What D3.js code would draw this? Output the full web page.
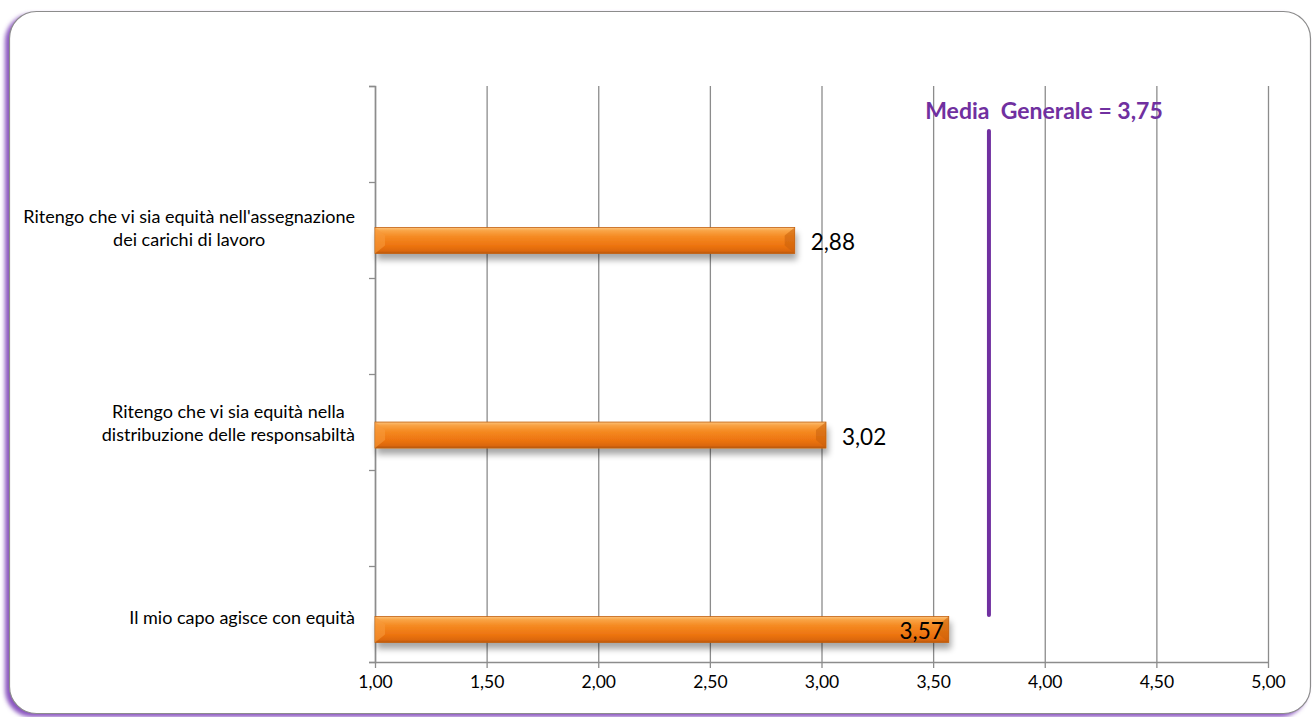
<!DOCTYPE html>
<html>
<head>
<meta charset="utf-8">
<script src="https://cdn.jsdelivr.net/npm/d3@7/dist/d3.min.js"></script>
<style>
  html, body { margin: 0; padding: 0; background: #ffffff; }
  svg { display: block; }
</style>
</head>
<body>
<svg id="chart" width="1314" height="717"></svg>
<script>
// ---- data ----
const categories = [
  "Ritengo che vi sia equità nell'assegnazione\ndei carichi di lavoro",
  "Ritengo che vi sia equità nella\ndistribuzione delle responsabiltà",
  "Il mio capo agisce con equità"
];
const values = [2.88, 3.02, 3.57];
const xTicks = [1.00, 1.50, 2.00, 2.50, 3.00, 3.50, 4.00, 4.50, 5.00];
const mediaGenerale = 3.75;
const mediaLabel = "Media\u00a0 Generale = 3,75";

// ---- layout ----
const W = 1314, H = 717;
const plot = { left: 375, right: 1268, top: 86, bottom: 662 };
const fontFamily = "Lato, 'Open Sans', sans-serif";
const fmt = v => d3.format(".2f")(v).replace(".", ",");

const svg = d3.select("#chart");
const defs = svg.append("defs");

// frame shadow
const blur = defs.append("filter").attr("id", "frameBlur")
  .attr("x", "-5%").attr("y", "-5%").attr("width", "110%").attr("height", "110%");
blur.append("feGaussianBlur").attr("stdDeviation", 2);

const barShadow = defs.append("filter").attr("id", "barShadow")
  .attr("x", "-5%").attr("y", "-50%").attr("width", "110%").attr("height", "220%");
barShadow.append("feGaussianBlur").attr("in", "SourceAlpha").attr("stdDeviation", 3).attr("result", "b");
barShadow.append("feOffset").attr("in", "b").attr("dx", 2).attr("dy", 6).attr("result", "o");
barShadow.append("feComponentTransfer").attr("in", "o").attr("result", "o2")
  .append("feFuncA").attr("type", "linear").attr("slope", 0.35);
const m = barShadow.append("feMerge");
m.append("feMergeNode").attr("in", "o2");
m.append("feMergeNode").attr("in", "SourceGraphic");

const grad = defs.append("linearGradient").attr("id", "barGrad")
  .attr("x1", 0).attr("y1", 0).attr("x2", 0).attr("y2", 1);
[["0%", "#fcc27a"], ["12%", "#f9a446"], ["35%", "#f58a22"], ["70%", "#ed7410"], ["90%", "#dc680c"], ["100%", "#b5560c"]]
  .forEach(([o, c]) => grad.append("stop").attr("offset", o).attr("stop-color", c));

// frame
svg.append("rect")
  .attr("x", 5).attr("y", 14).attr("width", 1302).attr("height", 703)
  .attr("rx", 27).attr("ry", 27)
  .attr("fill", "#8a55c0").attr("filter", "url(#frameBlur)");
svg.append("rect")
  .attr("x", 9.5).attr("y", 11.5).attr("width", 1301).attr("height", 702)
  .attr("rx", 27).attr("ry", 27)
  .attr("fill", "#ffffff").attr("stroke", "#8c8c8c").attr("stroke-width", 1.2);

// scales
const x = d3.scaleLinear().domain([1, 5]).range([plot.left, plot.right]);
const y = d3.scaleBand().domain(categories).range([plot.top, plot.bottom]).padding(0);
const bw = y.bandwidth();
const barH = 26;
const barCenter = (d, i) => y(d) + bw * (0.805 + 0.013 * i);

// gridlines (x axis)
const xAxis = d3.axisBottom(x).tickValues(xTicks).tickFormat(fmt)
  .tickSize(-(plot.bottom - plot.top)).tickSizeOuter(0).tickPadding(14);
const gx = svg.append("g").attr("transform", `translate(0,${plot.bottom})`).call(xAxis);
gx.select(".domain").attr("stroke", "#8c8c8c").attr("stroke-width", 1.5);
gx.selectAll(".tick line").attr("stroke", "#8c8c8c").attr("stroke-width", 1.3);
gx.selectAll(".tick").append("line")
  .attr("y1", 0).attr("y2", 6).attr("stroke", "#8c8c8c").attr("stroke-width", 1.3);
gx.selectAll(".tick text").attr("font-family", fontFamily).attr("font-size", 17.5).attr("fill", "#000");

// y axis with ticks at every half band
const yTickScale = d3.scaleLinear().domain([0, 6]).range([plot.top, plot.bottom]);
const gy = svg.append("g").attr("transform", `translate(${plot.left},0)`)
  .call(d3.axisLeft(yTickScale).ticks(6).tickSize(6).tickFormat(""));
gy.select(".domain").attr("stroke", "#8c8c8c").attr("stroke-width", 1.5);
gy.selectAll(".tick line").attr("stroke", "#8c8c8c").attr("stroke-width", 1.3);

// category labels
const labelRight = 355;
categories.forEach((c, i) => {
  const lines = c.split("\n");
  const g = svg.append("g");
  const t = g.append("text").attr("font-family", fontFamily).attr("font-size", 18).attr("fill", "#000")
    .attr("text-anchor", "middle");
  const lh = 23;
  const cy = barCenter(c, i) - 12;
  lines.forEach((ln, k) => {
    t.append("tspan").attr("x", 0).attr("y", cy + (k - (lines.length - 1) / 2) * lh).attr("dy", "0.35em").text(ln);
  });
  let maxW = 0;
  t.selectAll("tspan").each(function () { maxW = Math.max(maxW, this.getComputedTextLength()); });
  t.selectAll("tspan").attr("x", labelRight - maxW / 2);
});

// bars
const bars = svg.append("g");
categories.forEach((c, i) => {
  const v = values[i];
  const x0 = x(1), x1 = x(v);
  const top = barCenter(c, i) - barH / 2;
  const g = bars.append("g").attr("filter", "url(#barShadow)");
  g.append("rect").attr("x", x0).attr("y", top).attr("width", x1 - x0).attr("height", barH)
    .attr("fill", "url(#barGrad)").attr("stroke", "#c2600e").attr("stroke-width", 0.8);
  // bevel ends
  g.append("path").attr("d", `M${x0},${top} L${x0 + 10},${top + 8} L${x0 + 10},${top + barH - 8} L${x0},${top + barH} Z`)
    .attr("fill", "#f79a3a").attr("opacity", 0.6);
  g.append("path").attr("d", `M${x1},${top} L${x1 - 10},${top + 8} L${x1 - 10},${top + barH - 8} L${x1},${top + barH} Z`)
    .attr("fill", "#c8600c").attr("opacity", 0.55);
  // value labels
  const inside = x1 + 60 > x(mediaGenerale);
  svg.append("text")
    .attr("x", inside ? x1 - 5 : x1 + 16)
    .attr("y", barCenter(c, i) + 2)
    .attr("dy", "0.35em")
    .attr("text-anchor", inside ? "end" : "start")
    .attr("font-family", fontFamily).attr("font-size", 22.5).attr("fill", "#000")
    .text(fmt(v));
});

// media generale line
svg.append("line")
  .attr("x1", x(mediaGenerale)).attr("x2", x(mediaGenerale))
  .attr("y1", 131).attr("y2", 615)
  .attr("stroke", "#7030a0").attr("stroke-width", 4).attr("stroke-linecap", "round");
svg.append("text")
  .attr("x", 1044).attr("y", 119)
  .attr("text-anchor", "middle")
  .attr("font-family", fontFamily).attr("font-weight", "bold").attr("font-size", 23)
  .attr("fill", "#7030a0")
  .text(mediaLabel);
</script>
</body>
</html>
